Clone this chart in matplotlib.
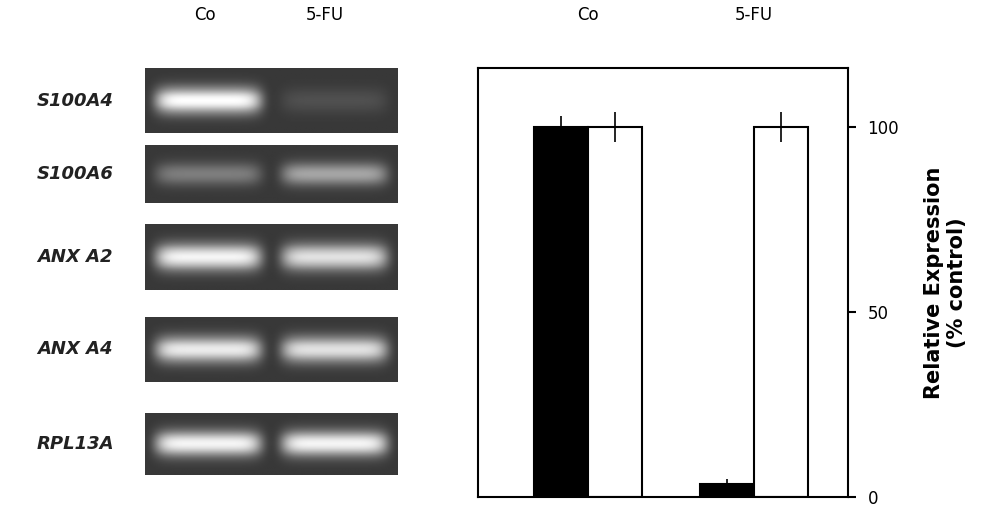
import numpy as np
import matplotlib.pyplot as plt

genes = ["S100A4", "S100A6", "ANX A2", "ANX A4", "RPL13A"]
lanes = ["Co", "5-FU"]
band_co = [1.0, 0.35, 0.95, 0.9, 0.95]
band_fu = [0.12, 0.55, 0.85, 0.85, 0.95]

groups = ["Co", "5-FU"]
black_vals = [100, 3.5]
white_vals = [100, 100]
black_err = [3, 1.5]
white_err = [4, 4]

W, H = 1000, 509
fig = plt.figure(figsize=(W / 100, H / 100), dpi=100)

def ax_px(x0, y0, x1, y1):
    return fig.add_axes([x0 / W, 1 - y1 / H, (x1 - x0) / W, (y1 - y0) / H])

# gel panels
rows = [(68, 133), (145, 203), (224, 290), (317, 382), (413, 475)]
for (y0, y1), g, a, b in zip(rows, genes, band_co, band_fu):
    ax = ax_px(145, y0, 398, y1)
    h, w = 60, 250
    yy = np.linspace(-1, 1, h)[:, None]
    xx = np.linspace(0, 1, w)[None, :]
    img = np.full((h, w), 0.22)
    for cx, inten in [(0.25, a), (0.75, b)]:
        prof_x = np.exp(-((xx - cx) / 0.21) ** 8)
        prof_y = np.exp(-(yy / 0.4) ** 2)
        img = img + 0.78 * inten * prof_x * prof_y
    ax.imshow(np.clip(img, 0, 1), cmap="gray", vmin=0, vmax=1, aspect="auto")
    ax.set_xticks([]); ax.set_yticks([])
    for s in ax.spines.values():
        s.set_visible(False)
    fig.text(75 / W, 1 - ((y0 + y1) / 2) / H, g, ha="center", va="center",
             fontsize=13, style="italic", fontweight="bold", color="#222222")

fig.text(205 / W, 1 - 15 / H, lanes[0], ha="center", va="center", fontsize=12)
fig.text(325 / W, 1 - 15 / H, lanes[1], ha="center", va="center", fontsize=12)

# bar chart
ax = ax_px(478, 68, 848, 497)
x = np.arange(len(groups))
bw = 0.325
ax.bar(x - bw / 2, black_vals, bw, color="black", edgecolor="black", lw=1.5,
       yerr=black_err, error_kw=dict(lw=1.2, capsize=0))
ax.bar(x + bw / 2, white_vals, bw, color="white", edgecolor="black", lw=1.5,
       yerr=white_err, error_kw=dict(lw=1.2, capsize=0))
ax.set_xlim(-0.663, 1.566)
ax.set_ylim(0, 116)
ax.set_xticks([])
ax.yaxis.tick_right()
ax.yaxis.set_label_position("right")
ax.set_yticks([0, 50, 100])
ax.tick_params(axis="y", direction="out", length=6, width=1.5, labelsize=12, pad=8)
for s in ax.spines.values():
    s.set_linewidth(1.5)
ax.set_ylabel("Relative Expression\n(% control)", fontsize=15, fontweight="bold",
              labelpad=18)
for xi, g in zip(x, groups):
    fig.text((478 + 166 * (xi + 0.663)) / W, 1 - 15 / H, g, ha="center",
             va="center", fontsize=12)

fig.savefig("out.png", dpi=100)
